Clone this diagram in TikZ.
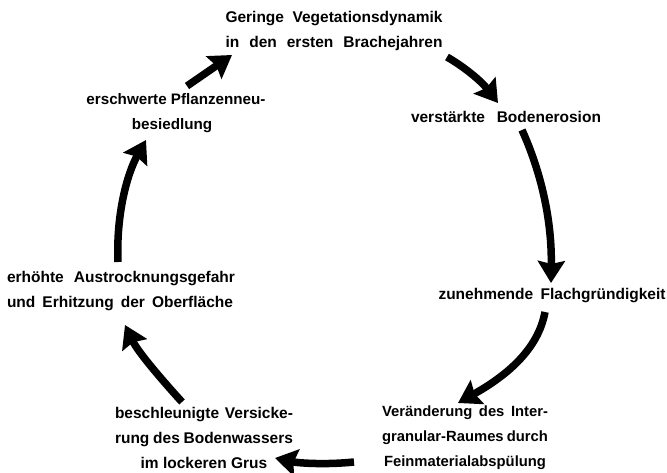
\documentclass[tikz,border=0pt]{standalone}
\usepackage{fontspec}
\setmainfont{Liberation Sans}
\usetikzlibrary{arrows.meta}
% one line of text, its word gaps stretched to a given width
\newcommand{\spreadline}[2]{\makebox[#1][s]{#2}}

\begin{document}
\begin{tikzpicture}[x=1pt,y=-1pt,
  lbl/.style={font=\bfseries\fontsize{#1}{25}\selectfont, inner sep=0pt, align=center},
  lbl/.default=15.5,
  flow/.style={line width=7.5pt, -{Stealth[length=22pt,width=27pt,inset=3pt]}}]
\useasboundingbox (0,0) rectangle (667,473);

% stages of the cycle
\node[lbl=15.5] (veg) at (334,31)
  {\spreadline{217pt}{Geringe Vegetationsdynamik}\\
   \spreadline{217pt}{in den ersten Brachejahren}};
\node[lbl=15.5] (ero) at (506,117) {\spreadline{190pt}{verstärkte Bodenerosion}};
\node[lbl=15.5] (flach) at (552,296) {\spreadline{227pt}{zunehmende Flachgründigkeit}};
\node[lbl=14.8] (inter) at (465,438)
  {\spreadline{166pt}{Veränderung des Inter-}\\
   \spreadline{166pt}{granular-Raumes durch}\\
   Feinmaterialabspülung};
\node[lbl=15.5] (sicker) at (204,438)
  {\spreadline{178pt}{beschleunigte Versicke-}\\
   \spreadline{178pt}{rung des Bodenwassers}\\
   im lockeren Grus};
\node[lbl=15.5, align=left] (trock) at (121,291)
  {\spreadline{228pt}{erhöhte Austrocknungsgefahr}\\
   \spreadline{226pt}{und Erhitzung der Oberfläche}};
\node[lbl=15.2] (pflanz) at (176,113) {erschwerte Pflanzenneu-\\besiedlung\hspace*{8pt}};

% arrow ends
\coordinate (a1s) at (187,86);  \coordinate (a1e) at (232,55);
\coordinate (a2s) at (447,57);  \coordinate (a2e) at (498,103);
\coordinate (a3s) at (522,130); \coordinate (a3e) at (551,283);
\coordinate (a4s) at (545,312); \coordinate (a4e) at (458,403);
\coordinate (a5s) at (354,462); \coordinate (a5e) at (275,458);
\coordinate (a6s) at (182,402); \coordinate (a6e) at (125,325);
\coordinate (a7s) at (118,262); \coordinate (a7e) at (146,140);

% the cycle, clockwise
\draw[flow] (a1s) -- (a1e);
\draw[flow] (a2s) .. controls (466,68) and (482,82) .. (a2e);
\draw[flow] (a3s) .. controls (541,172) and (552,220) .. (a3e);
\draw[flow] (a4s) .. controls (538,350) and (506,376) .. (a4e);
\draw[flow] (a5s) .. controls (325,465) and (298,463) .. (a5e);
\draw[flow] (a6s) .. controls (162,380) and (138,352) .. (a6e);
\draw[flow] (a7s) .. controls (116,215) and (127,174) .. (a7e);
\end{tikzpicture}
\end{document}
